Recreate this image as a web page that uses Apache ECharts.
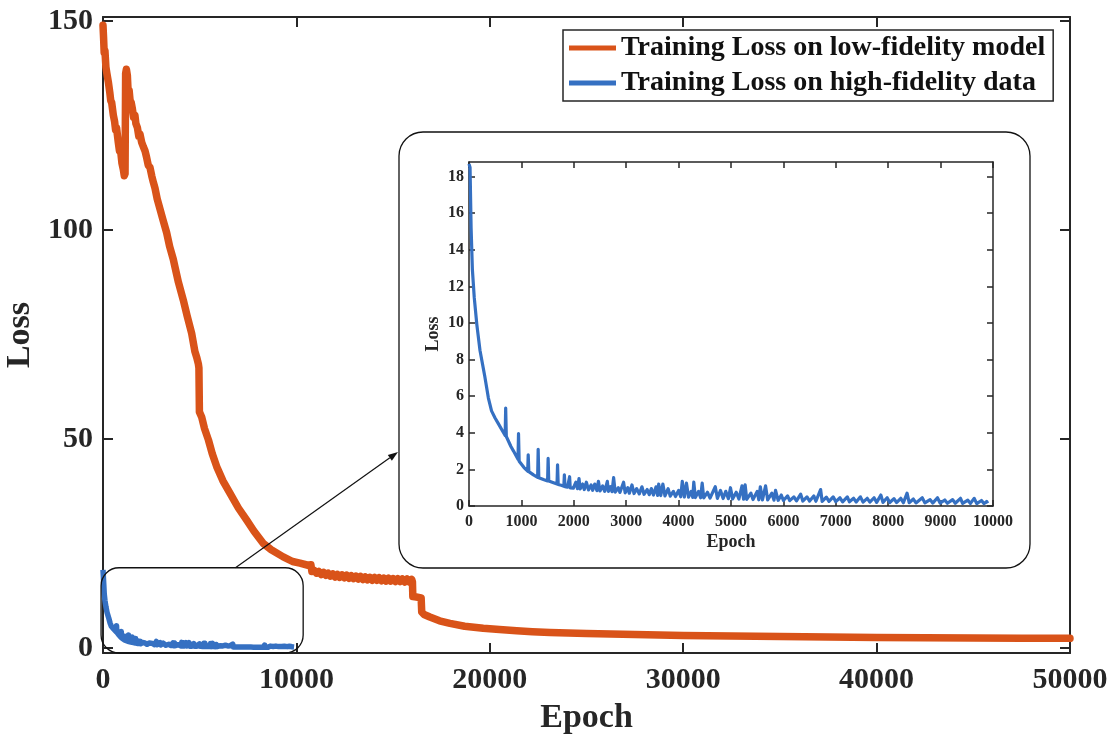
<!DOCTYPE html>
<html>
<head>
<meta charset="utf-8">
<script src="https://cdn.jsdelivr.net/npm/echarts@6/dist/echarts.min.js"></script>
<style>
  html, body { margin: 0; padding: 0; background: #fff; }
  #chart { width: 1119px; height: 739px; }
</style>
</head>
<body>
<div id="chart"></div>
<script>
// Series names
const lowFidName = 'Training Loss on low-fidelity model';
const highFidName = 'Training Loss on high-fidelity data';

// Training loss on the low-fidelity model: [epoch, loss]
const lowFidLoss = [
  [0, 149], [30, 146], [60, 142.5], [100, 143], [150, 139], [200, 137.5], [275, 135.5],
  [350, 133], [400, 131], [450, 130.5], [535, 127.5], [600, 126], [650, 124], [700, 124.5],
  [790, 121], [850, 119], [900, 119.5], [980, 116], [1050, 114.5], [1100, 113], [1140, 113.5],
  [1170, 137.5], [1210, 138.5], [1260, 137], [1300, 133], [1350, 133.5], [1400, 131],
  [1460, 130.5], [1520, 129], [1580, 127], [1650, 127.5], [1700, 125.5], [1780, 124.5],
  [1850, 122.5], [1910, 123], [2000, 121], [2080, 120], [2170, 119], [2250, 117.5],
  [2340, 115.5], [2430, 115], [2520, 113], [2600, 111.5], [2690, 110], [2800, 107.5],
  [2950, 105], [3100, 102.5], [3290, 99.4], [3450, 96], [3635, 93], [3720, 91.2],
  [3900, 87.5], [4150, 83.3], [4350, 79.5], [4585, 75.3], [4750, 71], [4850, 69.5],
  [4930, 68], [4960, 67], [4985, 56.5], [5100, 55.3], [5250, 52.5], [5450, 49.8],
  [5650, 46.5], [5880, 43.4], [6200, 40], [6570, 37], [7000, 33.5], [7430, 30.6],
  [7800, 28], [8290, 25], [8700, 23.5], [9320, 21.8], [9800, 20.7], [10185, 20.3],
  [10600, 19.8], [10750, 19.9], [10800, 18.3], [10920, 18.6], [11040, 17.9], [11160, 18.3],
  [11280, 17.6], [11400, 18.1], [11520, 17.4], [11640, 17.9], [11760, 17.2], [11880, 17.7],
  [12000, 17.0], [12120, 17.6], [12240, 16.9], [12360, 17.5], [12480, 16.8], [12600, 17.4],
  [12720, 16.7], [12840, 17.3], [12960, 16.6], [13080, 17.2], [13200, 16.5], [13320, 17.1],
  [13440, 16.4], [13560, 17.0], [13680, 16.3], [13800, 16.9], [13920, 16.2], [14040, 16.9],
  [14160, 16.2], [14280, 16.8], [14400, 16.1], [14520, 16.7], [14640, 16.0], [14760, 16.7],
  [14880, 16.0], [15000, 16.6], [15120, 15.9], [15240, 16.6], [15360, 15.9], [15480, 16.5],
  [15600, 15.8], [15720, 16.5], [15840, 15.8], [15960, 16.4], [16000, 15.8], [16020, 12.3],
  [16200, 12.2], [16450, 12.0], [16480, 8.6], [16600, 8.0], [16900, 7.4], [17400, 6.5],
  [17940, 5.9], [18700, 5.2], [19660, 4.7], [20500, 4.4], [21390, 4.1], [22200, 3.9],
  [23110, 3.7], [25000, 3.45], [27500, 3.2], [30000, 3.0], [32500, 2.85], [35000, 2.72],
  [37500, 2.62], [40000, 2.52], [42500, 2.45], [45000, 2.4], [47500, 2.35], [50000, 2.3]
];

// Training loss on the high-fidelity data: [epoch, loss]
const highFidLoss = [
  [0, 18.7], [20, 18.5], [40, 15.2], [65, 12.9], [100, 11.4], [150, 9.9], [210, 8.5],
  [300, 7.1], [370, 5.9], [430, 5.2], [500, 4.8], [560, 4.5], [640, 4.1], [690, 3.85],
  [700, 5.35], [712, 3.8], [800, 3.25], [850, 3.0], [935, 2.55], [945, 3.95], [957, 2.45],
  [1050, 2.1], [1120, 1.9], [1130, 2.8], [1142, 1.88], [1230, 1.7], [1310, 1.57],
  [1320, 3.1], [1332, 1.55], [1420, 1.45], [1500, 1.37], [1510, 2.6], [1522, 1.36],
  [1600, 1.28], [1680, 1.2], [1690, 2.25], [1702, 1.18], [1760, 1.13], [1810, 1.08],
  [1820, 1.7], [1832, 1.06], [1880, 1.03], [1910, 1.0], [1920, 1.6], [1932, 0.99],
  [1990, 0.97], [2040, 1.3], [2070, 0.95], [2100, 1.5], [2120, 0.93], [2170, 1.2],
  [2200, 0.9], [2240, 1.3], [2280, 0.88], [2330, 1.15], [2360, 0.86], [2400, 1.2],
  [2440, 0.84], [2470, 1.35], [2500, 0.82], [2550, 1.1], [2590, 0.8], [2640, 1.35],
  [2660, 0.8], [2700, 1.05], [2730, 0.78], [2760, 1.55], [2790, 0.76], [2850, 1.0],
  [2880, 0.74], [2950, 1.3], [2980, 0.72], [3030, 1.0], [3060, 0.7], [3110, 1.15],
  [3150, 0.68], [3200, 0.95], [3250, 0.66], [3300, 1.05], [3340, 0.64], [3400, 0.9],
  [3440, 0.62], [3480, 0.95], [3520, 0.6], [3570, 1.05], [3600, 0.58], [3620, 1.2],
  [3660, 0.57], [3700, 1.2], [3740, 0.55], [3800, 0.95], [3840, 0.54], [3900, 0.8],
  [3940, 0.52], [4000, 0.85], [4040, 0.5], [4070, 1.35], [4110, 0.49], [4150, 1.25],
  [4190, 0.48], [4240, 0.8], [4270, 0.47], [4290, 1.3], [4320, 0.46], [4380, 0.8],
  [4420, 0.45], [4450, 1.25], [4480, 0.44], [4550, 0.75], [4600, 0.43], [4700, 1.05],
  [4740, 0.42], [4800, 0.85], [4850, 0.41], [4900, 0.8], [4950, 0.4], [4990, 1.0],
  [5030, 0.39], [5100, 0.75], [5150, 0.38], [5210, 1.1], [5240, 0.37], [5270, 1.15],
  [5300, 0.36], [5380, 0.7], [5420, 0.35], [5500, 0.8], [5530, 0.34], [5560, 1.05],
  [5600, 0.33], [5660, 1.1], [5700, 0.33], [5780, 0.7], [5820, 0.32], [5850, 0.85],
  [5900, 0.31], [5960, 0.6], [6000, 0.3], [6080, 0.55], [6120, 0.29], [6200, 0.5],
  [6250, 0.28], [6330, 0.65], [6370, 0.27], [6450, 0.5], [6500, 0.27], [6580, 0.55],
  [6620, 0.26], [6710, 0.9], [6740, 0.25], [6820, 0.48], [6870, 0.25], [6950, 0.5],
  [7000, 0.24], [7080, 0.45], [7130, 0.23], [7220, 0.5], [7260, 0.23], [7340, 0.42],
  [7390, 0.22], [7470, 0.5], [7520, 0.21], [7600, 0.42], [7650, 0.21], [7730, 0.45],
  [7780, 0.2], [7860, 0.6], [7900, 0.2], [7980, 0.45], [8030, 0.19], [8110, 0.4],
  [8160, 0.19], [8240, 0.42], [8290, 0.18], [8360, 0.7], [8400, 0.18], [8480, 0.38],
  [8530, 0.17], [8650, 0.45], [8700, 0.17], [8800, 0.35], [8850, 0.16], [8940, 0.45],
  [8990, 0.16], [9080, 0.33], [9130, 0.15], [9230, 0.35], [9280, 0.15], [9380, 0.42],
  [9420, 0.14], [9520, 0.32], [9570, 0.14], [9640, 0.42], [9690, 0.13], [9780, 0.3],
  [9830, 0.13], [9880, 0.25], [9900, 0.15]
];

// Tick values
const mainLossTicks = [0, 50, 100, 150];
const insetLossTicks = [0, 2, 4, 6, 8, 10, 12, 14, 16, 18];

const RED = '#D95319';
const BLUE = '#3570C2';
const INK = '#262626';
const FONT = '"Liberation Serif", "Times New Roman", serif';

const mainGrid = { left: 103, right: 49, top: 17, bottom: 86 };
const insetGrid = { left: 469, right: 126, top: 162, bottom: 233 };

const plainNumber = v => String(v);

function boxAxis(base, extra) {
  return Object.assign({
    axisLine: { show: true, onZero: false, lineStyle: { color: INK, width: 2 } },
    axisTick: { show: true, inside: true, length: 10, lineStyle: { color: INK, width: 2 } },
    splitLine: { show: false },
    axisLabel: { show: false }
  }, base, extra || {});
}

const mainLabel = { color: INK, fontFamily: FONT, fontWeight: 'bold', fontSize: 30, formatter: plainNumber };
const insetLabel = { color: INK, fontFamily: FONT, fontWeight: 'bold', fontSize: 16, formatter: plainNumber };
const insetTick = { show: true, inside: true, length: 6, lineStyle: { color: INK, width: 1.5 } };
const insetLine = { show: true, onZero: false, lineStyle: { color: INK, width: 1.5 } };

const chart = echarts.init(document.getElementById('chart'), null, { renderer: 'canvas' });

chart.setOption({
  animation: false,
  backgroundColor: '#fff',
  grid: [
    Object.assign({ containLabel: false, outerBoundsMode: 'none' }, mainGrid),
    Object.assign({ containLabel: false, outerBoundsMode: 'none', z: 5 }, insetGrid)
  ],
  legend: {
    data: [lowFidName, highFidName],
    orient: 'vertical',
    left: 563, top: 30,
    padding: [4, 8, 4, 6],
    itemGap: 7,
    itemWidth: 47, itemHeight: 5,
    icon: 'rect',
    selectedMode: false,
    backgroundColor: '#fff',
    borderColor: INK, borderWidth: 1.5,
    textStyle: { color: '#111', fontFamily: FONT, fontWeight: 'bold', fontSize: 28 }
  },
  xAxis: [
    boxAxis({ gridIndex: 0, type: 'value', position: 'bottom', min: 0, max: 50000, interval: 10000,
      name: 'Epoch', nameLocation: 'middle', nameGap: 48,
      nameTextStyle: { color: INK, fontFamily: FONT, fontWeight: 'bold', fontSize: 34 },
      axisLabel: Object.assign({ show: true, margin: 12 }, mainLabel) }),
    boxAxis({ gridIndex: 0, type: 'value', position: 'top', min: 0, max: 50000, interval: 10000 }),
    boxAxis({ gridIndex: 1, type: 'value', position: 'bottom', min: 0, max: 10000, interval: 1000, z: 5,
      name: 'Epoch', nameLocation: 'middle', nameGap: 27,
      nameTextStyle: { color: INK, fontFamily: FONT, fontWeight: 'bold', fontSize: 18 },
      axisLabel: Object.assign({ show: true, margin: 8 }, insetLabel) },
      { axisTick: insetTick, axisLine: insetLine }),
    boxAxis({ gridIndex: 1, type: 'value', position: 'top', min: 0, max: 10000, interval: 1000, z: 5 },
      { axisTick: insetTick, axisLine: insetLine })
  ],
  yAxis: [
    boxAxis({ gridIndex: 0, type: 'value', position: 'left', min: -1.2, max: 151,
      name: 'Loss', nameLocation: 'middle', nameGap: 65, nameRotate: 90,
      nameTextStyle: { color: INK, fontFamily: FONT, fontWeight: 'bold', fontSize: 34 },
      axisLabel: Object.assign({ show: true, margin: 10, customValues: mainLossTicks }, mainLabel) },
      { axisTick: { show: true, inside: true, length: 10, customValues: mainLossTicks,
        lineStyle: { color: INK, width: 2 } } }),
    boxAxis({ gridIndex: 0, type: 'value', position: 'right', min: -1.2, max: 151 },
      { axisTick: { show: true, inside: true, length: 10, customValues: mainLossTicks,
        lineStyle: { color: INK, width: 2 } } }),
    boxAxis({ gridIndex: 1, type: 'value', position: 'left', min: 0, max: 18.8, z: 5,
      name: 'Loss', nameLocation: 'middle', nameGap: 27, nameRotate: 90,
      nameTextStyle: { color: INK, fontFamily: FONT, fontWeight: 'bold', fontSize: 18 },
      axisLabel: Object.assign({ show: true, margin: 5, customValues: insetLossTicks }, insetLabel) },
      { axisTick: Object.assign({ customValues: insetLossTicks }, insetTick), axisLine: insetLine }),
    boxAxis({ gridIndex: 1, type: 'value', position: 'right', min: 0, max: 18.8, z: 5 },
      { axisTick: Object.assign({ customValues: insetLossTicks }, insetTick), axisLine: insetLine })
  ],
  series: [
    {
      name: lowFidName, type: 'line', xAxisIndex: 0, yAxisIndex: 0,
      data: lowFidLoss, showSymbol: false, symbol: 'none', clip: true,
      lineStyle: { color: RED, width: 7.5, join: 'round', cap: 'round' },
      itemStyle: { color: RED }, z: 3
    },
    {
      name: highFidName, type: 'line', xAxisIndex: 0, yAxisIndex: 0,
      data: highFidLoss, showSymbol: false, symbol: 'none', clip: true,
      lineStyle: { color: BLUE, width: 5.5, join: 'round' },
      itemStyle: { color: BLUE }, z: 4
    },
    {
      name: highFidName, type: 'line', xAxisIndex: 2, yAxisIndex: 2,
      data: highFidLoss, showSymbol: false, symbol: 'none', clip: true,
      lineStyle: { color: BLUE, width: 3.2, join: 'round' },
      itemStyle: { color: BLUE }, z: 6
    }
  ]
});

// Zoom frames and the connecting arrow, placed from the axes' own scales
function drawAnnotations() {
  const p0 = chart.convertToPixel({ xAxisIndex: 0, yAxisIndex: 0 }, [-100, 19.2]);
  const p1 = chart.convertToPixel({ xAxisIndex: 0, yAxisIndex: 0 }, [10350, -1.2]);
  const small = { x: p0[0], y: p0[1], width: p1[0] - p0[0], height: p1[1] - p0[1] };

  const gx = insetGrid.left, gy = insetGrid.top;
  const gw = 1119 - insetGrid.left - insetGrid.right;
  const gh = 739 - insetGrid.top - insetGrid.bottom;
  const big = { x: gx - 70, y: gy - 30, width: gw + 107, height: gh + 92 };

  const start = [small.x + small.width * 0.665, small.y];
  const end = [big.x - 1, big.y + 320];
  const ang = Math.atan2(end[1] - start[1], end[0] - start[0]);
  const L = 10, W = 3.5;
  const bx = end[0] - L * Math.cos(ang), by = end[1] - L * Math.sin(ang);
  const head = [
    end,
    [bx + W * Math.sin(ang), by - W * Math.cos(ang)],
    [bx - W * Math.sin(ang), by + W * Math.cos(ang)]
  ];

  chart.setOption({
    graphic: [
      { type: 'rect', z: 1, silent: true,
        shape: { x: big.x, y: big.y, width: big.width, height: big.height, r: 24 },
        style: { fill: '#fff', stroke: '#111', lineWidth: 1.3 } },
      { type: 'rect', z: 100, silent: true,
        shape: { x: small.x, y: small.y, width: small.width, height: small.height, r: 18 },
        style: { fill: null, stroke: '#111', lineWidth: 1.3 } },
      { type: 'line', z: 100, silent: true,
        shape: { x1: start[0], y1: start[1], x2: bx, y2: by },
        style: { stroke: '#111', lineWidth: 1.2 } },
      { type: 'polygon', z: 100, silent: true,
        shape: { points: head },
        style: { fill: '#111' } }
    ]
  });
}
drawAnnotations();
</script>
</body>
</html>
